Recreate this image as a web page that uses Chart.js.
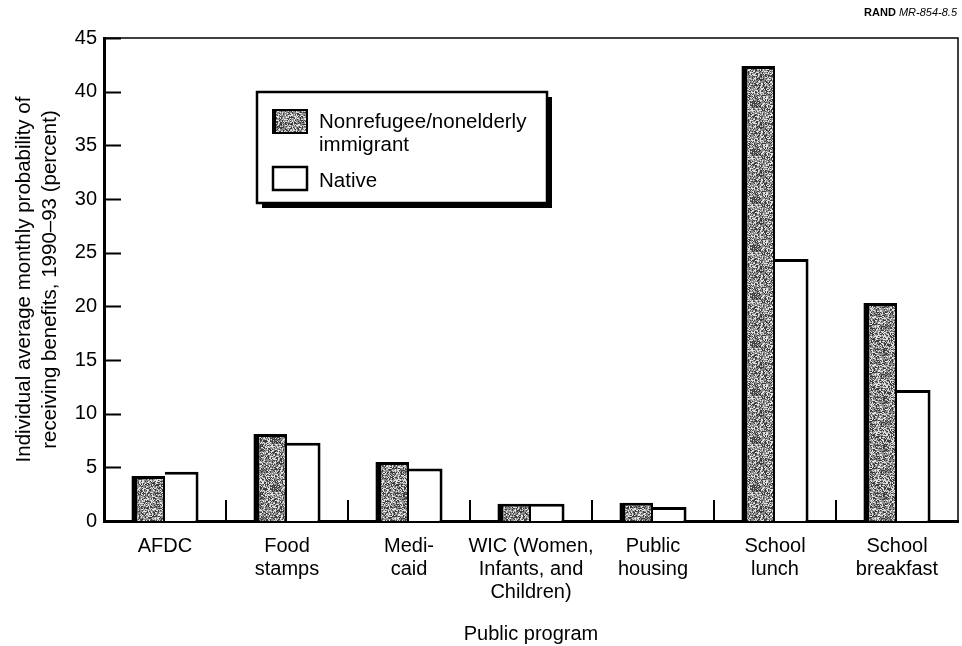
<!DOCTYPE html>
<html>
<head>
<meta charset="utf-8">
<script src="https://cdn.jsdelivr.net/npm/chart.js@4/dist/chart.umd.min.js"></script>
<style>
  html, body { margin: 0; padding: 0; background: #fff; }
  #wrap { width: 962px; height: 646px; position: relative; }
</style>
</head>
<body>
<div id="wrap"><canvas id="benefits"></canvas></div>
<script>
'use strict';

var programs = [
    ['AFDC'],
    ['Food', 'stamps'],
    ['Medi-', 'caid'],
    ['WIC (Women,', 'Infants, and', 'Children)'],
    ['Public', 'housing'],
    ['School', 'lunch'],
    ['School', 'breakfast']
];
var immigrant = [4.2, 8.1, 5.5, 1.6, 1.7, 42.4, 20.3];
var native = [4.6, 7.3, 4.9, 1.6, 1.3, 24.4, 12.2];
var yTicks = [0, 5, 10, 15, 20, 25, 30, 35, 40, 45];

var FONT = '"Liberation Sans", Arial, Helvetica, sans-serif';

// grainy gray fill, like a halftone screen
function stipple() {
    var c = document.createElement('canvas');
    c.width = 48; c.height = 48;
    var g = c.getContext('2d');
    var img = g.createImageData(48, 48);
    var s = 12345;
    for (var i = 0; i < 48 * 48; i++) {
        s = (s * 1103515245 + 12345) & 0x7fffffff;
        var r = (s >> 8) % 100;
        var v = r < 30 ? 60 : (r < 70 ? 140 : 225);
        img.data[i * 4] = v;
        img.data[i * 4 + 1] = v;
        img.data[i * 4 + 2] = v;
        img.data[i * 4 + 3] = 255;
    }
    g.putImageData(img, 0, 0);
    return g.createPattern(c, 'repeat');
}
var grain = stipple();

// inward ticks, frame, boxed legend and the report tag
var decorations = {
    id: 'decorations',
    afterDraw: function (chart) {
        var ctx = chart.ctx;
        var a = chart.chartArea;
        var x = chart.scales.x, y = chart.scales.y;
        ctx.save();
        ctx.strokeStyle = '#000';

        ctx.lineWidth = 1.5;
        ctx.beginPath();
        ctx.moveTo(a.left, a.top);
        ctx.lineTo(a.right, a.top);
        ctx.lineTo(a.right, a.bottom);
        ctx.stroke();

        ctx.lineWidth = 2;
        ctx.beginPath();
        yTicks.forEach(function (v) {
            if (v === 0) return;
            var py = Math.round(y.getPixelForValue(v)) + 0.5;
            ctx.moveTo(a.left, py);
            ctx.lineTo(a.left + 17, py);
        });
        for (var i = 1; i < programs.length; i++) {
            var px = Math.round((x.getPixelForValue(i - 1) + x.getPixelForValue(i)) / 2);
            ctx.moveTo(px, a.bottom);
            ctx.lineTo(px, a.bottom - 21);
        }
        ctx.stroke();

        // legend box with drop shadow
        var bx = 257, by = 92, bw = 290, bh = 111;
        ctx.fillStyle = '#000';
        ctx.fillRect(bx + 5, by + 5, bw, bh);
        ctx.fillStyle = '#fff';
        ctx.fillRect(bx, by, bw, bh);
        ctx.lineWidth = 2.5;
        ctx.strokeRect(bx, by, bw, bh);

        ctx.fillStyle = grain;
        ctx.fillRect(272, 109, 36, 25);
        ctx.lineWidth = 2;
        ctx.strokeRect(273, 110, 34, 23);
        ctx.fillStyle = '#000';
        ctx.fillRect(272, 109, 4, 25);
        ctx.fillStyle = '#fff';
        ctx.fillRect(272, 166, 36, 25);
        ctx.lineWidth = 2.5;
        ctx.strokeRect(273, 167, 34, 23);

        ctx.fillStyle = '#000';
        ctx.font = '20.5px ' + FONT;
        ctx.textBaseline = 'alphabetic';
        ctx.textAlign = 'left';
        ctx.fillText('Nonrefugee/nonelderly', 319, 128);
        ctx.fillText('immigrant', 319, 151);
        ctx.fillText('Native', 319, 187);

        ctx.textAlign = 'right';
        ctx.font = 'italic 11px ' + FONT;
        var tag = 'MR-854-8.5';
        var tw = ctx.measureText(tag).width;
        ctx.fillText(tag, 957, 16);
        ctx.font = 'bold 11px ' + FONT;
        ctx.fillText('RAND ', 957 - tw, 16);
        ctx.restore();
    }
};

var chart = new Chart(document.getElementById('benefits'), {
    type: 'bar',
    data: {
        labels: programs,
        datasets: [{
            label: 'Nonrefugee/nonelderly immigrant',
            data: immigrant,
            backgroundColor: grain,
            borderColor: '#000',
            borderWidth: { top: 3, left: 6, right: 2, bottom: 0 },
            borderSkipped: 'bottom'
        }, {
            label: 'Native',
            data: native,
            backgroundColor: '#fff',
            borderColor: '#000',
            borderWidth: { top: 3, left: 0, right: 3, bottom: 0 },
            borderSkipped: 'bottom'
        }]
    },
    options: {
        responsive: true,
        maintainAspectRatio: false,
        animation: false,
        layout: { padding: { left: 12, top: 38, right: 4, bottom: 0 } },
        categoryPercentage: 0.55,
        barPercentage: 1.0,
        plugins: {
            legend: { display: false },
            tooltip: { enabled: false }
        },
        scales: {
            x: {
                grid: { display: false, drawTicks: false },
                border: { color: '#000', width: 3 },
                ticks: {
                    color: '#000',
                    padding: 14,
                    maxRotation: 0,
                    autoSkip: false,
                    font: { family: FONT, size: 20, lineHeight: 1.15 }
                },
                title: {
                    display: true,
                    text: 'Public program',
                    color: '#000',
                    padding: { top: 0, bottom: 0 },
                    font: { family: FONT, size: 20 }
                },
                afterFit: function (scale) { scale.height = 125; }
            },
            y: {
                min: 0,
                max: 45,
                grid: { display: false, drawTicks: false },
                border: { color: '#000', width: 3 },
                ticks: {
                    stepSize: 5,
                    color: '#000',
                    padding: 7,
                    font: { family: FONT, size: 20 }
                },
                title: {
                    display: true,
                    text: ['Individual average monthly probability of', 'receiving benefits, 1990\u201393 (percent)'],
                    color: '#000',
                    padding: { top: 0, bottom: 0 },
                    font: { family: FONT, size: 20.5, lineHeight: 1.25 }
                },
                afterFit: function (scale) { scale.width = 92; }
            }
        }
    },
    plugins: [decorations]
});
</script>
</body>
</html>
